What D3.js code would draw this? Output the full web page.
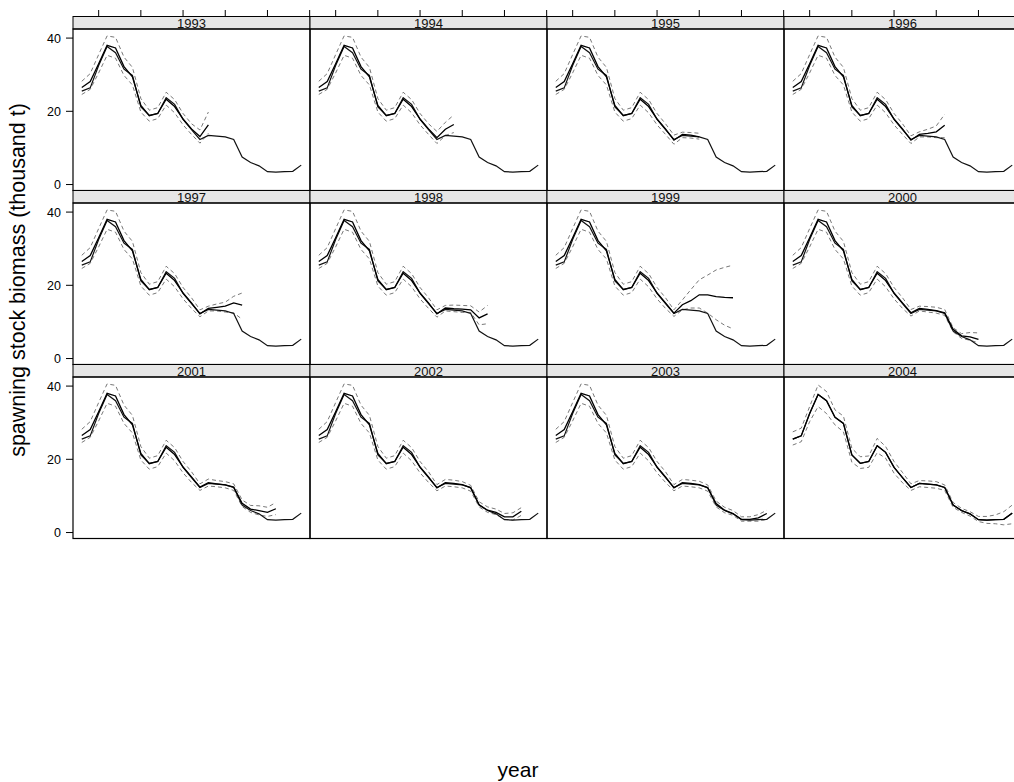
<!DOCTYPE html>
<html>
<head>
<meta charset="utf-8">
<script src="https://cdn.jsdelivr.net/npm/d3@7"></script>
<style>
  html, body { margin: 0; padding: 0; background: #fff; }
  #chart svg { display: block; font-family: "Liberation Sans", Arial, Helvetica, sans-serif; }
</style>
</head>
<body>
<div id="chart"></div>
<script>
// assessment years on the x axis
const years = [1978, 1979, 1980, 1981, 1982, 1983, 1984, 1985, 1986, 1987, 1988, 1989, 1990,
               1991, 1992, 1993, 1994, 1995, 1996, 1997, 1998, 1999, 2000, 2001, 2002, 2003, 2004];

// one panel per retrospective run (terminal year)
const panelYears = [1993, 1994, 1995, 1996, 1997, 1998, 1999, 2000, 2001, 2002, 2003, 2004];

// final (2004) assessment, with its confidence bounds
const finalSSB = [25.5, 26.4, 32.5, 37.7, 36.0, 31.5, 29.8, 21.2, 18.9, 19.4, 23.7, 21.9, 17.8,
                  15.0, 12.3, 13.4, 13.2, 13.0, 12.3, 7.5, 6.0, 5.1, 3.5, 3.4, 3.5, 3.6, 5.3];
const finalLo  = [23.9, 24.8, 30.3, 34.4, 32.5, 29.4, 27.5, 19.2, 17.5, 17.8, 21.8, 20.3, 16.2,
                  13.6, 11.5, 12.5, 12.3, 12.1, 11.5, 6.9, 5.5, 4.5, 3.0, 2.5, 2.4, 2.1, 2.4];
const finalHi  = [27.5, 28.5, 34.4, 40.3, 38.5, 33.5, 31.8, 23.0, 20.7, 20.9, 25.7, 23.5, 19.4,
                  16.4, 13.3, 14.2, 14.1, 13.9, 13.0, 8.2, 6.6, 5.7, 4.4, 4.4, 4.8, 5.7, 7.5];

// retrospective runs 1993-2003: shared part 1978-1991
const retroHead   = [26.5, 28.1, 33.0, 38.0, 37.3, 32.2, 29.4, 21.6, 18.8, 19.4, 23.3, 21.3, 17.9, 15.2];
const retroHeadLo = [24.6, 26.0, 30.5, 35.3, 34.5, 29.8, 27.2, 19.8, 17.3, 18.0, 21.7, 19.6, 16.3, 13.7];
const retroHeadHi = [28.2, 30.3, 35.5, 40.6, 40.2, 34.8, 32.0, 23.5, 20.3, 21.0, 25.2, 23.2, 19.4, 16.6];

// retrospective runs: 1992 up to the terminal year of each panel
const retroTail = [
  [13.1, 16.3],
  [12.8, 15.1, 16.4],
  [12.1, 13.7, 13.5, 13.0],
  [12.1, 13.7, 14.0, 14.4, 16.2],
  [12.2, 13.7, 14.0, 14.3, 15.2, 14.6],
  [12.2, 13.8, 13.6, 13.5, 13.3, 11.1, 12.2],
  [12.4, 14.7, 15.8, 17.4, 17.4, 16.9, 16.7, 16.6],
  [12.5, 13.7, 13.4, 13.1, 12.5, 8.0, 6.2, 5.9, 5.2],
  [12.4, 13.6, 13.3, 13.0, 12.4, 8.0, 6.4, 6.0, 5.5, 6.5],
  [12.2, 13.6, 13.4, 13.1, 12.2, 7.6, 6.1, 5.5, 4.3, 4.3, 5.8],
  [12.2, 13.6, 13.4, 13.1, 12.2, 7.9, 6.1, 5.2, 3.6, 3.6, 4.0, 5.2]
];
const retroTailLo = [
  [11.3, 14.0],
  [11.2, 13.4, 14.2],
  [11.0, 12.8, 12.7, 12.4],
  [11.2, 13.0, 13.0, 12.8, 12.8],
  [11.4, 13.0, 13.0, 12.7, 12.5, 10.7],
  [11.3, 13.0, 12.8, 12.6, 12.6, 9.2, 9.5],
  [11.5, 13.3, 13.8, 13.8, 12.4, 10.6, 9.1, 8.1],
  [11.6, 13.0, 12.7, 12.4, 11.8, 7.3, 5.5, 5.0, 4.3],
  [11.5, 12.7, 12.5, 12.2, 11.5, 7.1, 5.5, 4.8, 4.4, 4.9],
  [11.4, 12.7, 12.5, 12.2, 11.3, 7.0, 5.5, 4.9, 3.6, 3.4, 4.7],
  [11.4, 12.7, 12.5, 12.2, 11.3, 7.0, 5.4, 4.7, 3.1, 3.1, 3.1, 3.6]
];
const retroTailHi = [
  [14.9, 19.8],
  [14.5, 17.0, 19.0],
  [13.5, 14.3, 14.2, 14.0],
  [13.3, 14.4, 15.1, 16.0, 19.2],
  [13.3, 14.3, 14.9, 15.4, 17.0, 17.9],
  [13.3, 14.5, 14.6, 14.5, 14.4, 12.7, 14.5],
  [13.3, 16.0, 18.8, 21.5, 22.8, 24.2, 24.9, 25.5],
  [13.4, 14.3, 14.2, 14.0, 13.4, 8.4, 6.8, 7.1, 7.0],
  [13.3, 14.6, 14.2, 13.9, 13.3, 8.9, 7.4, 7.3, 6.9, 8.2],
  [13.1, 14.5, 14.3, 13.9, 12.9, 8.4, 7.0, 6.4, 5.2, 5.4, 6.8],
  [13.1, 14.5, 14.3, 14.0, 13.0, 8.6, 6.9, 6.0, 4.3, 4.3, 4.9, 6.1]
];

// axis ticks
const xTicks = [1980, 1985, 1990, 1995, 2000, 2005];
const yTicks = [0, 20, 40];

const RetroChart = (function() {
    'use strict';

    const width = 1014;
    const height = 782;

    // lattice-like layout, 4 columns x 3 rows
    const layout = { left: 73, top: 16.5, panelW: 237, panelH: 161.5, stripH: 12.5, cols: 4 };

    const x = d3.scaleLinear().domain([1976.96, 2005.04]).range([0, layout.panelW]);
    const y = d3.scaleLinear().domain([-1.63, 42.48]).range([layout.panelH, 0]);

    const line = d3.line()
        .x((d, i) => x(years[i]))
        .y(d => y(d));

    /**
     * series for one panel
     */
    function panelSeries(i) {
        if (i >= retroTail.length) {
            return { est: finalSSB, lo: finalLo, hi: finalHi };
        }
        return {
            est: retroHead.concat(retroTail[i]),
            lo: retroHeadLo.concat(retroTailLo[i]),
            hi: retroHeadHi.concat(retroTailHi[i])
        };
    }

    function draw(selector) {
        const svg = d3.select(selector)
            .append('svg')
            .attr('width', width)
            .attr('height', height);

        svg.append('rect')
            .attr('width', width)
            .attr('height', height)
            .attr('fill', '#fff');

        panelYears.forEach((yr, i) => {
            const col = i % layout.cols;
            const row = Math.floor(i / layout.cols);
            const px = layout.left + col * layout.panelW;
            const stripTop = layout.top + row * (layout.stripH + layout.panelH);
            const py = stripTop + layout.stripH;

            // strip
            const strip = svg.append('g').attr('transform', `translate(${px},${stripTop})`);
            strip.append('rect')
                .attr('width', layout.panelW)
                .attr('height', layout.stripH)
                .attr('fill', '#e6e6e6')
                .attr('stroke', '#000')
                .attr('stroke-width', 1);
            strip.append('text')
                .attr('x', layout.panelW / 2)
                .attr('y', layout.stripH - 0.8)
                .attr('text-anchor', 'middle')
                .attr('font-size', 13)
                .attr('fill', '#111')
                .text(yr);

            // top axis ticks above first row
            if (row === 0) {
                strip.selectAll('line.xtick')
                    .data(xTicks)
                    .join('line')
                    .attr('class', 'xtick')
                    .attr('x1', d => x(d))
                    .attr('x2', d => x(d))
                    .attr('y1', 0)
                    .attr('y2', -6.5)
                    .attr('stroke', '#000')
                    .attr('stroke-width', 1);
            }

            const g = svg.append('g').attr('transform', `translate(${px},${py})`);
            const s = panelSeries(i);

            // confidence bounds
            [s.lo, s.hi].forEach(b => {
                g.append('path')
                    .attr('d', line(b))
                    .attr('fill', 'none')
                    .attr('stroke', '#555')
                    .attr('stroke-width', 0.8)
                    .attr('stroke-dasharray', '4,3');
            });

            // final assessment
            g.append('path')
                .attr('d', line(finalSSB))
                .attr('fill', 'none')
                .attr('stroke', '#111')
                .attr('stroke-width', 1.2);

            // retrospective estimate
            g.append('path')
                .attr('d', line(s.est))
                .attr('fill', 'none')
                .attr('stroke', '#000')
                .attr('stroke-width', 1.3);

            // panel border
            g.append('rect')
                .attr('width', layout.panelW)
                .attr('height', layout.panelH)
                .attr('fill', 'none')
                .attr('stroke', '#000')
                .attr('stroke-width', 1.2);

            // y axis on first column
            if (col === 0) {
                const axis = g.append('g');
                axis.selectAll('line')
                    .data(yTicks)
                    .join('line')
                    .attr('x1', 0)
                    .attr('x2', -7)
                    .attr('y1', d => y(d))
                    .attr('y2', d => y(d))
                    .attr('stroke', '#000');
                axis.selectAll('text')
                    .data(yTicks)
                    .join('text')
                    .attr('x', -12)
                    .attr('y', d => y(d))
                    .attr('dy', '0.36em')
                    .attr('text-anchor', 'end')
                    .attr('font-size', 12.5)
                    .text(d => d);
            }
        });

        // axis titles
        svg.append('text')
            .attr('transform', 'translate(25,280) rotate(-90)')
            .attr('text-anchor', 'middle')
            .attr('font-size', 21.5)
            .text('spawning stock biomass (thousand t)');

        svg.append('text')
            .attr('x', 518)
            .attr('y', 777)
            .attr('text-anchor', 'middle')
            .attr('font-size', 21)
            .text('year');
    }

    return { draw };
})();

RetroChart.draw('#chart');
</script>
</body>
</html>
